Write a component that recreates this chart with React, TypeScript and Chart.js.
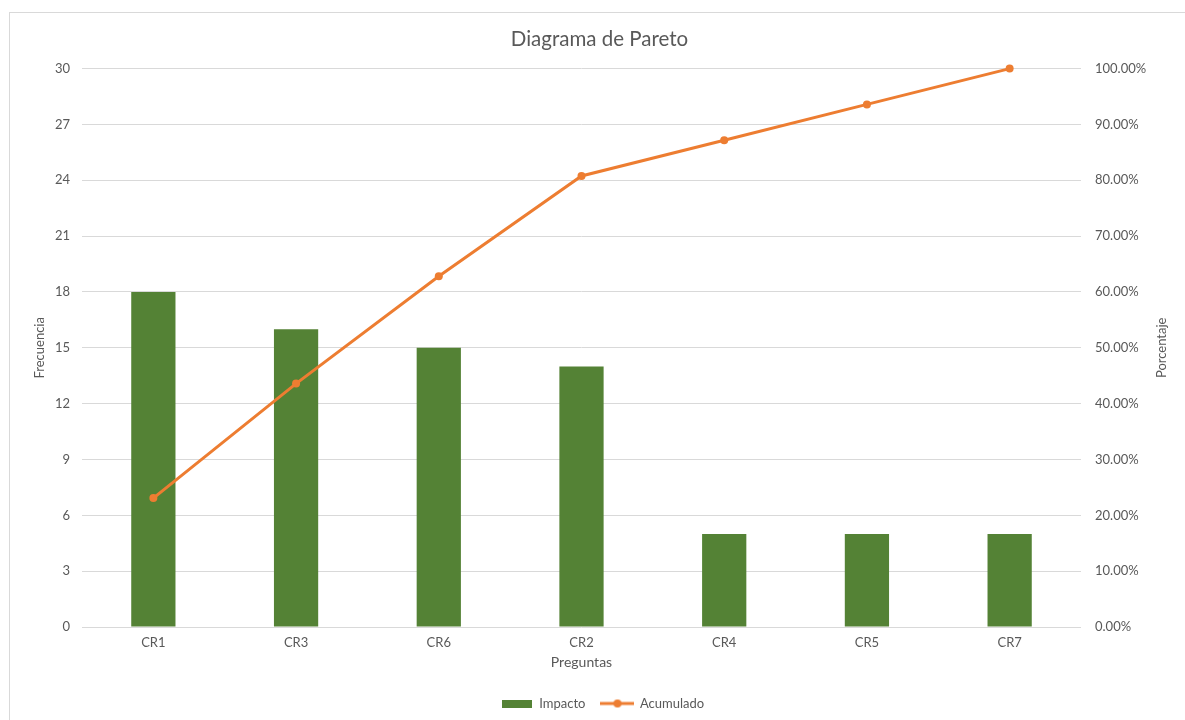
import React, { useEffect, useRef } from "react";
import { Chart, registerables } from "chart.js";

Chart.register(...registerables);

const categories = ["CR1", "CR3", "CR6", "CR2", "CR4", "CR5", "CR7"];
const impacto = [18, 16, 15, 14, 5, 5, 5];
const acumulado = [23.08, 43.59, 62.82, 80.77, 87.18, 93.59, 100];
const leftMax = 30;
const leftStep = 3;
const rightMax = 100;
const rightStep = 10;

const GREEN = "#548235";
const ORANGE = "#ED7D31";
const TEXT = "#595959";
const GRID = "#d9d9d9";
const FONT = "Lato, 'Open Sans', sans-serif";

function makeBarIcon(): HTMLCanvasElement {
  const c = document.createElement("canvas");
  c.width = 30;
  c.height = 8;
  const ctx = c.getContext("2d")!;
  ctx.fillStyle = GREEN;
  ctx.fillRect(0, 0, 30, 8);
  return c;
}

function makeLineIcon(): HTMLCanvasElement {
  const c = document.createElement("canvas");
  c.width = 34;
  c.height = 10;
  const ctx = c.getContext("2d")!;
  ctx.strokeStyle = ORANGE;
  ctx.lineWidth = 3;
  ctx.beginPath();
  ctx.moveTo(0, 5);
  ctx.lineTo(34, 5);
  ctx.stroke();
  ctx.fillStyle = ORANGE;
  ctx.beginPath();
  ctx.arc(17, 5, 4, 0, Math.PI * 2);
  ctx.fill();
  return c;
}

const rightTitlePlugin = {
  id: "rightTitle",
  afterLayout(chart: any) {
    if (chart.legend) {
      chart.legend.left += 10;
      chart.legend.right += 10;
    }
    if (chart.titleBlock) {
      chart.titleBlock.left += 7;
      chart.titleBlock.right += 7;
    }
  },
  afterDraw(chart: any) {
    const { ctx, chartArea } = chart;
    ctx.save();
    ctx.translate(1162, (chartArea.top + chartArea.bottom) / 2);
    ctx.rotate(-Math.PI / 2);
    ctx.fillStyle = TEXT;
    ctx.font = `13px ${FONT}`;
    ctx.textAlign = "center";
    ctx.textBaseline = "middle";
    ctx.fillText("Porcentaje", 0, 0);
    ctx.restore();
  },
};

export default function App() {
  const canvasRef = useRef<HTMLCanvasElement | null>(null);

  useEffect(() => {
    if (!canvasRef.current) return;
    const barIcon = makeBarIcon();
    const lineIcon = makeLineIcon();
    Chart.defaults.font.family = FONT;
    Chart.defaults.color = TEXT;

    const chart = new Chart(canvasRef.current, {
      type: "bar",
      data: {
        labels: categories,
        datasets: [
          {
            type: "line",
            label: "Acumulado",
            data: acumulado,
            yAxisID: "y1",
            borderColor: ORANGE,
            backgroundColor: ORANGE,
            borderWidth: 3,
            pointRadius: 4,
            pointBackgroundColor: ORANGE,
            pointBorderColor: ORANGE,
            pointBorderWidth: 0,
            tension: 0,
            clip: false,
            order: 0,
          } as any,
          {
            type: "bar",
            label: "Impacto",
            data: impacto,
            yAxisID: "y",
            backgroundColor: GREEN,
            borderWidth: 0,
            barPercentage: 0.31,
            categoryPercentage: 1,
            order: 1,
          },
        ],
      },
      options: {
        animation: false,
        responsive: false,
        maintainAspectRatio: false,
        layout: { padding: 0 },
        plugins: {
          title: {
            display: true,
            text: "Diagrama de Pareto",
            color: TEXT,
            font: { size: 20.5, weight: "normal", family: FONT },
            padding: { top: 27, bottom: 17 },
          },
          legend: {
            display: true,
            position: "bottom",
            labels: {
              usePointStyle: true,
              pointStyleWidth: 32,
              color: TEXT,
              font: { size: 13, family: FONT },
              padding: 16,
              generateLabels(ch: any) {
                const items = Chart.defaults.plugins.legend.labels.generateLabels(ch);
                const ordered = [items[1], items[0]];
                ordered.forEach((it: any) => {
                  it.pointStyle = it.text === "Impacto" ? barIcon : lineIcon;
                  it.fontColor = TEXT;
                });
                return ordered;
              },
            },
          },
          tooltip: { enabled: false },
        },
        scales: {
          x: {
            grid: { display: false, drawTicks: false },
            border: { display: false },
            ticks: { color: TEXT, font: { size: 13 }, padding: 8 },
            title: {
              display: true,
              text: "Preguntas",
              color: TEXT,
              font: { size: 14 },
              padding: { top: 4, bottom: 10 },
            },
            afterFit(scale: any) {
              scale.height = 54;
            },
          },
          y: {
            position: "left",
            min: 0,
            max: leftMax,
            grid: { color: GRID, drawTicks: false, lineWidth: 1 },
            border: { display: false },
            ticks: { stepSize: leftStep, color: TEXT, font: { size: 13 }, padding: 12 },
            title: {
              display: true,
              text: "Frecuencia",
              color: TEXT,
              font: { size: 13 },
              padding: { top: 32, bottom: 0 },
            },
            afterFit(scale: any) {
              scale.width = 82;
            },
          },
          y1: {
            position: "right",
            min: 0,
            max: rightMax,
            grid: { display: false, drawTicks: false },
            border: { display: false },
            ticks: {
              stepSize: rightStep,
              color: TEXT,
              font: { size: 13 },
              padding: 14,
              callback: (v: any) => Number(v).toFixed(2) + "%",
            },
            afterFit(scale: any) {
              scale.width = 104;
            },
          },
        },
      } as any,
      plugins: [rightTitlePlugin],
    });
    return () => chart.destroy();
  }, []);

  return (
    <div style={{ position: "fixed", left: 0, top: 0, width: 1185, height: 720, background: "#fff", overflow: "hidden" }}>
      <div
        style={{
          position: "absolute",
          left: 9,
          top: 12,
          width: 1300,
          height: 900,
          border: "1px solid #d9d9d9",
          boxSizing: "border-box",
        }}
      />
      <canvas
        ref={canvasRef}
        width={1185}
        height={720}
        style={{ position: "absolute", left: 0, top: 0, width: 1185, height: 720 }}
      />
    </div>
  );
}
